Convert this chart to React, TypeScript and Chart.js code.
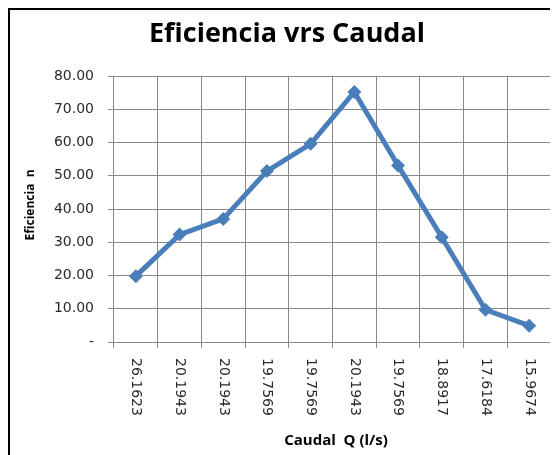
import React, { useEffect, useRef } from "react";
import { Chart, registerables } from "chart.js";

Chart.register(...registerables);

const categories = ["26.1623", "20.1943", "20.1943", "19.7569", "19.7569", "20.1943", "19.7569", "18.8917", "17.6184", "15.9674"];
const eficiencia = [19.8, 32.3, 37.0, 51.4, 59.6, 75.2, 53.1, 31.5, 9.7, 4.9];
const yTicks = [0, 10, 20, 30, 40, 50, 60, 70, 80];

const chartTitle = "Eficiencia vrs Caudal";
const xTitle = "Caudal  Q (l/s)";
const yTitle = "Eficiencia  n";

const TICK_FONT = "14px \"DejaVu Sans\", Verdana, sans-serif";

const textPlugin = {
  id: "customText",
  afterDraw(chart: any) {
    const ctx = chart.ctx;
    const xs = chart.scales.x;
    const area = chart.chartArea;
    ctx.save();
    // title
    ctx.fillStyle = "#000";
    ctx.font = "bold 27px \"Open Sans\"";
    ctx.textAlign = "center";
    ctx.textBaseline = "alphabetic";
    ctx.fillText(chartTitle, 277, 32);
    // x tick labels rotated clockwise
    ctx.fillStyle = "#2a2a2a";
    ctx.font = TICK_FONT;
    categories.forEach((c, i) => {
      const x = xs.getPixelForValue(i);
      ctx.save();
      ctx.translate(x, area.bottom + 16);
      ctx.rotate(Math.PI / 2);
      ctx.textAlign = "left";
      ctx.textBaseline = "middle";
      ctx.fillText(c, 0, 0);
      ctx.restore();
    });
    // x axis title
    ctx.fillStyle = "#000";
    ctx.font = "bold 15px \"Open Sans\"";
    ctx.textAlign = "center";
    ctx.textBaseline = "middle";
    ctx.fillText(xTitle, 326, 431);
    // y axis title
    ctx.save();
    ctx.translate(21, 195);
    ctx.rotate(-Math.PI / 2);
    ctx.font = "bold 12px \"Open Sans\"";
    ctx.textAlign = "center";
    ctx.textBaseline = "middle";
    ctx.fillText(yTitle, 0, 0);
    ctx.restore();
    ctx.restore();
  },
};

export default function App() {
  const ref = useRef<HTMLCanvasElement>(null);
  useEffect(() => {
    if (!ref.current) return;
    const chart = new Chart(ref.current, {
      type: "line",
      data: {
        labels: categories,
        datasets: [
          {
            data: eficiencia,
            borderColor: "#4A7EBB",
            backgroundColor: "#4A7EBB",
            borderWidth: 5,
            pointStyle: "rectRot",
            pointRadius: 7,
            pointBorderWidth: 0,
            tension: 0,
          },
        ],
      },
      options: {
        animation: false,
        responsive: false,
        layout: { padding: { top: 66, right: 1, left: 0, bottom: 0 } },
        plugins: { legend: { display: false }, title: { display: false }, tooltip: { enabled: false } },
        scales: {
          x: {
            type: "category",
            offset: true,
            grid: { offset: true, color: "#8a8a8a", lineWidth: 1, tickLength: 6, drawTicks: true },
            border: { display: false },
            ticks: { display: false },
            afterFit: (s: any) => {
              s.height = 113;
            },
          },
          y: {
            min: 0,
            max: 80,
            afterBuildTicks: (s: any) => {
              s.ticks = yTicks.map((v) => ({ value: v }));
            },
            grid: { color: "#8a8a8a", lineWidth: 1, tickLength: 6 },
            border: { display: false },
            ticks: {
              padding: 14,
              color: "#2a2a2a",
              font: { family: "\"DejaVu Sans\", Verdana, sans-serif", size: 14 },
              callback: (v: any) => (Number(v) === 0 ? "-" : Number(v).toFixed(2)),
            },
            afterFit: (s: any) => {
              s.width = 104;
            },
          },
        },
      },
      plugins: [textPlugin],
    });
    return () => chart.destroy();
  }, []);
  return (
    <div style={{ width: 548, height: 445, borderLeft: "2px solid #000", borderTop: "2px solid #000" }}>
      <canvas ref={ref} width={548} height={445} style={{ display: "block" }} />
    </div>
  );
}
